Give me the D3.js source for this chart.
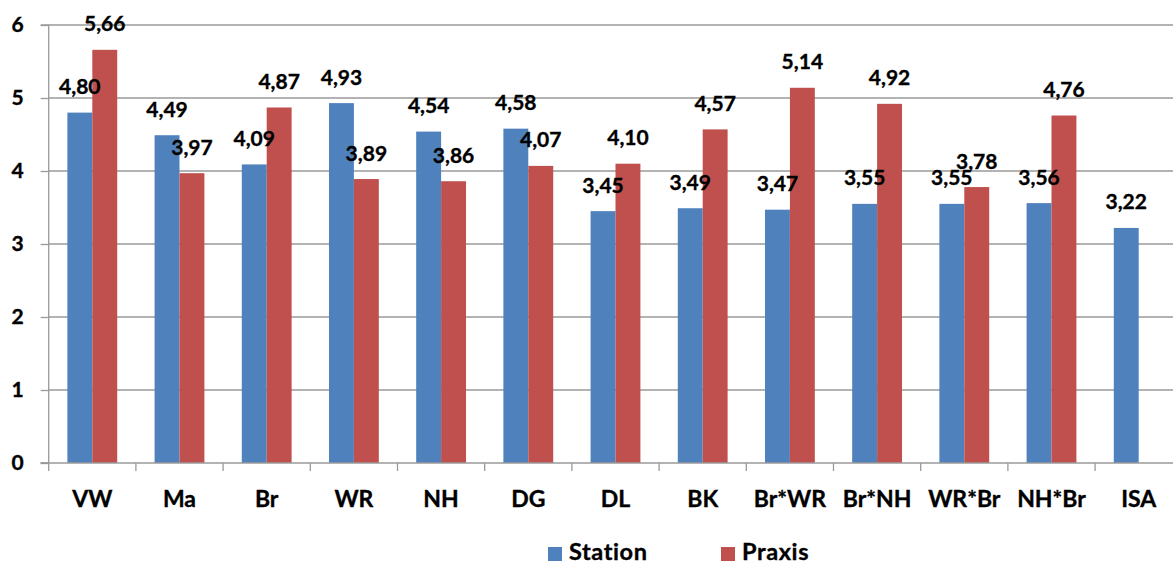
<!DOCTYPE html>
<html><head><meta charset="utf-8">
<script src="https://cdn.jsdelivr.net/npm/d3@7"></script>
<style>
html,body{margin:0;padding:0;background:#fff;overflow:hidden}
text{font-family:Lato,"Open Sans",sans-serif;font-weight:700;fill:#000;stroke:#000;stroke-width:0.35px}
</style></head>
<body>
<svg id="chart" width="1173" height="562"></svg>
<script>
const categories = ["VW","Ma","Br","WR","NH","DG","DL","BK","Br*WR","Br*NH","WR*Br","NH*Br","ISA"];
const seriesNames = ["Station","Praxis"];
const station = [4.80,4.49,4.09,4.93,4.54,4.58,3.45,3.49,3.47,3.55,3.55,3.56,3.22];
const praxis = [5.66,3.97,4.87,3.89,3.86,4.07,4.10,4.57,5.14,4.92,3.78,4.76,null];
const yTicks = [0,1,2,3,4,5,6];
const colors = ["#4F81BD","#C0504D"];

(function(){
const svg = d3.select("#chart");
const left = 48.7, bandW = 87.2, plotTop = 25, plotBottom = 463;
const x = d3.scaleBand().domain(categories).range([left, left + categories.length*bandW]).paddingInner(0).paddingOuter(0);
const bw = x.bandwidth()/3.5;
const x1 = d3.scaleBand().domain(seriesNames).range([0.75*bw, 2.75*bw]).padding(0);
const y = d3.scaleLinear().domain([0,6]).range([plotBottom, plotTop]);
const gridColor = "#9a9a9a";

// gridlines
svg.append("g").selectAll("line").data(yTicks.filter(d=>d>0)).join("line")
  .attr("x1", left).attr("x2", 1173).attr("y1", d=>y(d)).attr("y2", d=>y(d))
  .attr("stroke", gridColor).attr("stroke-width", 1.3);

// y axis
const yAxis = svg.append("g").attr("transform", `translate(${left},0)`)
  .call(d3.axisLeft(y).tickValues(yTicks).tickSize(8).tickPadding(17).tickFormat(d3.format("d")));
yAxis.select(".domain").attr("stroke", gridColor).attr("stroke-width", 1.3).attr("d", `M-8,${plotTop}H0V${plotBottom}H-8`);
yAxis.selectAll(".tick line").attr("stroke", gridColor).attr("stroke-width", 1.3);
yAxis.selectAll(".tick text").style("font-size","21px").style("font-family","Lato,sans-serif").style("font-weight","700").attr("fill","#000");

// bars
const rows = categories.map((c,i)=>({cat:c, vals:[station[i], praxis[i]]}));
const flat = [];
rows.forEach(r=>seriesNames.forEach((s,j)=>{ if(r.vals[j]!=null) flat.push({cat:r.cat, s, j, v:r.vals[j]}); }));
const fmt = v => d3.format(".2f")(v).replace(".", ",");
svg.append("g").selectAll("rect").data(flat).join("rect")
  .attr("x", d=>x(d.cat)+x1(d.s)).attr("width", x1.bandwidth())
  .attr("y", d=>y(d.v)).attr("height", d=>y(0)-y(d.v))
  .attr("fill", d=>colors[d.j]);
svg.append("g").selectAll("text").data(flat).join("text")
  .attr("x", d=>x(d.cat)+x1(d.s)+x1.bandwidth()/2).attr("y", d=>y(d.v)-18.5)
  .attr("text-anchor","middle").style("font-size","21px").text(d=>fmt(d.v));

// x axis
const xAxisG = svg.append("g");
xAxisG.append("line").attr("x1", left-8).attr("x2", 1173).attr("y1", plotBottom).attr("y2", plotBottom)
  .attr("stroke", gridColor).attr("stroke-width", 1.3);
const bounds = categories.map(c=>x(c)).concat([x(categories[categories.length-1])+x.bandwidth()]);
xAxisG.selectAll("line.tk").data(bounds).join("line").attr("class","tk")
  .attr("x1", d=>d).attr("x2", d=>d).attr("y1", plotBottom).attr("y2", plotBottom+8)
  .attr("stroke", gridColor).attr("stroke-width", 1.3);
xAxisG.selectAll("text").data(categories).join("text")
  .attr("x", d=>x(d)+x.bandwidth()/2).attr("y", 506.5)
  .attr("text-anchor","middle").style("font-size","23px").text(d=>d);

// legend
const legend = svg.append("g");
const legX = [548, 721];
seriesNames.forEach((s,j)=>{
  legend.append("rect").attr("x", legX[j]).attr("y", 547).attr("width", 14).attr("height", 14).attr("fill", colors[j]);
  legend.append("text").attr("x", legX[j]+21).attr("y", 560).style("font-size","23.5px").style("letter-spacing","0.6px").text(s);
});
})();
</script>
</body></html>
